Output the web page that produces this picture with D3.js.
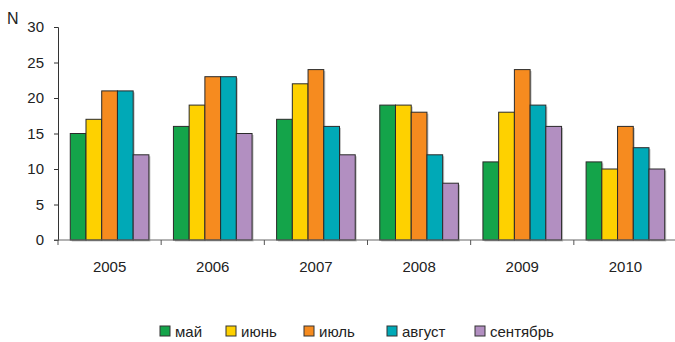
<!DOCTYPE html>
<html><head><meta charset="utf-8">
<script src="https://cdn.jsdelivr.net/npm/d3@7"></script>
<style>body{margin:0;background:#fff;} text{font-family:"Liberation Sans",Arial,sans-serif;fill:#222;}</style>
</head><body><svg id="c" width="675" height="342"></svg>
<script>
const years = ["2005","2006","2007","2008","2009","2010"];
const months = ["май","июнь","июль","август","сентябрь"];
const may = [15,16,17,19,11,11];
const june = [17,19,22,19,18,10];
const july = [21,23,24,18,24,16];
const august = [21,23,16,12,19,13];
const september = [12,15,12,8,16,10];
const yTicks = [0,5,10,15,20,25,30];
const colors = ["#14a44a","#fed100","#f68b1f","#00a9b7","#b28fc1"];
const series = [may,june,july,august,september];

const svg = d3.select("#c");
const m = {left:58, top:27, bottom:240, right:677};
const x = d3.scaleBand().domain(years).range([m.left,m.right]).paddingInner(0).paddingOuter(0);
const xs = d3.scaleBand().domain(months).range([0,x.bandwidth()]).paddingOuter(0.78).paddingInner(0);
const y = d3.scaleLinear().domain([0,30]).range([m.bottom,m.top]);

// bars
years.forEach((yr,i)=>{
  const g = svg.append("g").attr("transform",`translate(${x(yr)},0)`);
  series.forEach((s,j)=>{
    g.append("rect").attr("x",xs(months[j])+1.5).attr("y",y(s[i])+1.5)
      .attr("width",xs.bandwidth()).attr("height",y(0)-y(s[i]))
      .attr("fill","#c4c4c4");
  });
  series.forEach((s,j)=>{
    g.append("rect").attr("x",xs(months[j])).attr("y",y(s[i]))
      .attr("width",xs.bandwidth()).attr("height",y(0)-y(s[i]))
      .attr("fill",colors[j]).attr("stroke","#2a2a2a").attr("stroke-width",1);
  });
});

// y axis
const ya = svg.append("g").attr("transform",`translate(${m.left},0)`)
  .call(d3.axisLeft(y).tickValues(yTicks).tickSize(4).tickPadding(10));
ya.select(".domain").attr("stroke","#333");
ya.selectAll(".tick line").attr("stroke","#333");
ya.selectAll("text").attr("font-size",15).attr("fill","#222").attr("font-family","Liberation Sans, Arial, sans-serif");

// x axis
const xa = svg.append("g").attr("transform",`translate(0,${m.bottom})`);
xa.append("line").attr("x1",m.left-4).attr("x2",675).attr("y1",0).attr("y2",0).attr("stroke","#666");
years.concat(["end"]).forEach((yr,i)=>{
  const px = m.left + i*x.bandwidth();
  xa.append("line").attr("x1",px).attr("x2",px).attr("y1",0).attr("y2",5).attr("stroke","#555");
});
years.forEach(yr=>{
  xa.append("text").attr("x",x(yr)+x.bandwidth()/2).attr("y",32)
    .attr("text-anchor","middle").attr("font-size",15).text(yr);
});

svg.append("text").attr("x",7).attr("y",24).attr("font-size",16).text("N");

// legend
const legX = [160,226,304,387,475];
months.forEach((mo,j)=>{
  svg.append("rect").attr("x",legX[j]).attr("y",326).attr("width",10).attr("height",10)
    .attr("fill",colors[j]).attr("stroke","#333");
  svg.append("text").attr("x",legX[j]+15).attr("y",337).attr("font-size",15).text(mo);
});
</script></body></html>
